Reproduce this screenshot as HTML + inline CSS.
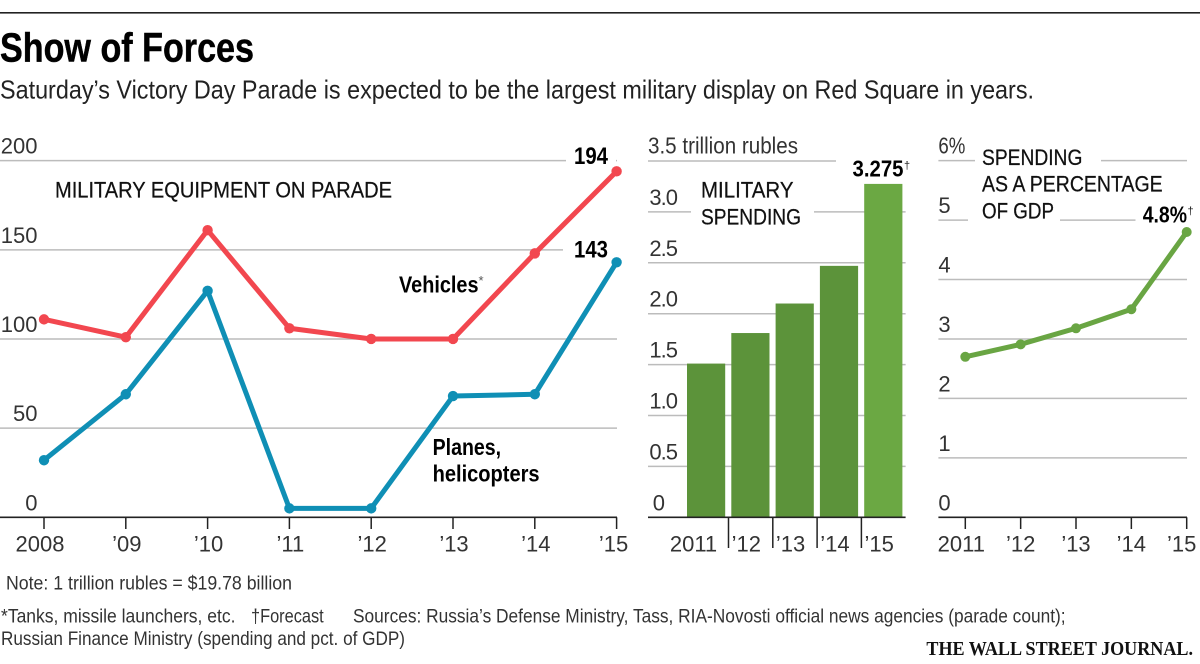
<!DOCTYPE html>
<html lang="en">
<head>
<meta charset="utf-8">
<title>Show of Forces</title>
<style>
html,body{margin:0;padding:0;background:#fff;width:1200px;height:664px;overflow:hidden}
svg{display:block}
text{font-family:"Liberation Sans",sans-serif;fill:#222}
.b{font-weight:700;fill:#000}
.t{fill:#333}
.c{fill:#111;stroke:#111;stroke-width:.25}
</style>
</head>
<body>
<svg id="chart" width="1200" height="664" viewBox="0 0 1200 664" xmlns="http://www.w3.org/2000/svg">
<rect x="0" y="12" width="1200" height="1.6" fill="#222"/>
<text class="b" x="0" y="61.5" font-size="41" textLength="254" lengthAdjust="spacingAndGlyphs" stroke="#000" stroke-width=".5">Show of Forces</text>
<text x="0" y="98.5" font-size="26" textLength="1034" lengthAdjust="spacingAndGlyphs">Saturday’s Victory Day Parade is expected to be the largest military display on Red Square in years.</text>

<g id="grid"></g>
<rect x="566" y="150" width="50" height="20" fill="#fff"/>
<rect x="563" y="240" width="54" height="20" fill="#fff"/>
<rect x="836" y="150" width="70" height="20" fill="#fff"/>
<rect x="691" y="205" width="123" height="14" fill="#fff"/>
<rect x="975" y="150" width="126" height="20" fill="#fff"/>
<rect x="968" y="212" width="92" height="16" fill="#fff"/>
<rect x="1135.5" y="212" width="52" height="16" fill="#fff"/>

<g id="marks"></g>
<g id="axes"></g>

<text class="c" x="55" y="197.3" font-size="22" textLength="337" lengthAdjust="spacingAndGlyphs">MILITARY EQUIPMENT ON PARADE</text>
<text class="b" x="574" y="164" font-size="24" textLength="34" lengthAdjust="spacingAndGlyphs">194</text>
<text class="b" x="574" y="257.5" font-size="24" textLength="34" lengthAdjust="spacingAndGlyphs">143</text>
<text class="b" x="399" y="292.3" font-size="23" textLength="79.5" lengthAdjust="spacingAndGlyphs">Vehicles</text>
<text x="478.5" y="285" font-size="13" style="fill:#555">*</text>
<text class="b" x="432.6" y="455" font-size="23" textLength="68.5" lengthAdjust="spacingAndGlyphs">Planes,</text>
<text class="b" x="432.6" y="481.7" font-size="23" textLength="107" lengthAdjust="spacingAndGlyphs">helicopters</text>

<text class="t" x="648" y="153.3" font-size="23" textLength="150" lengthAdjust="spacingAndGlyphs">3.5 trillion rubles</text>
<text class="c" x="701" y="197.7" font-size="22" textLength="92.5" lengthAdjust="spacingAndGlyphs">MILITARY</text>
<text class="c" x="701" y="224.3" font-size="22" textLength="100" lengthAdjust="spacingAndGlyphs">SPENDING</text>
<text class="b" x="852.5" y="176.7" font-size="23" textLength="51" lengthAdjust="spacingAndGlyphs">3.275</text>
<text x="904" y="169" font-size="11">†</text>

<text class="t" x="938.4" y="153.3" font-size="23" textLength="27" lengthAdjust="spacingAndGlyphs">6%</text>
<text class="c" x="982" y="165" font-size="22" textLength="100.4" lengthAdjust="spacingAndGlyphs">SPENDING</text>
<text class="c" x="982" y="191.7" font-size="22" textLength="180.7" lengthAdjust="spacingAndGlyphs">AS A PERCENTAGE</text>
<text class="c" x="982" y="218.3" font-size="22" textLength="72" lengthAdjust="spacingAndGlyphs">OF GDP</text>
<text class="b" x="1142.7" y="222.7" font-size="23" textLength="44.3" lengthAdjust="spacingAndGlyphs">4.8%</text>
<text x="1187.5" y="214.5" font-size="11">†</text>

<text class="t" x="6" y="589.3" font-size="19.5" textLength="286" lengthAdjust="spacingAndGlyphs">Note: 1 trillion rubles = $19.78 billion</text>
<text class="t" x="1" y="622.7" font-size="19.5" textLength="234.5" lengthAdjust="spacingAndGlyphs">*Tanks, missile launchers, etc.</text>
<text class="t" x="251" y="622.7" font-size="19.5" textLength="72.7" lengthAdjust="spacingAndGlyphs">†Forecast</text>
<text class="t" x="353" y="622.7" font-size="19.5" textLength="712.6" lengthAdjust="spacingAndGlyphs">Sources: Russia’s Defense Ministry, Tass, RIA-Novosti official news agencies (parade count);</text>
<text class="t" x="1" y="645" font-size="19.5" textLength="404" lengthAdjust="spacingAndGlyphs">Russian Finance Ministry (spending and pct. of GDP)</text>
<text x="926.4" y="655" font-size="20" textLength="266.6" lengthAdjust="spacingAndGlyphs" style="font-family:'Liberation Serif',serif;font-weight:700;fill:#111">THE WALL STREET JOURNAL.</text>
</svg>

<script>
const paradeYears = ['2008','’09','’10','’11','’12','’13','’14','’15'];
const vehicles = [111, 101, 161, 106, 100, 100, 148, 194];
const planes = [32, 69, 127, 5, 5, 68, 69, 143];
const paradeTicks = [0, 50, 100, 150, 200];

const spendingYears = ['2011','’12','’13','’14','’15'];
const spending = [1.51, 1.81, 2.10, 2.47, 3.275];
const spendingTicks = ['0','0.5','1.0','1.5','2.0','2.5','3.0','3.5'];

const gdpYears = ['2011','’12','’13','’14','’15'];
const gdpShare = [2.7, 2.91, 3.18, 3.5, 4.8];
const gdpTicks = ['0','1','2','3','4','5','6'];

const NS = 'http://www.w3.org/2000/svg';
const BASE = 517.3;
const gridG = document.getElementById('grid');
const marksG = document.getElementById('marks');
const axesG = document.getElementById('axes');

const xParade = i => 44 + 81.8 * i;
const yParade = v => BASE - v * 1.7832;
const xBand = i => 687 + 44.3 * i;
const yRubles = v => BASE - v * 101.8;
const xGdp = i => 965.3 + 55.35 * i;
const yGdp = v => BASE - v * 59.44;

function make(tag, attrs, parent) {
  const el = document.createElementNS(NS, tag);
  for (const k in attrs) el.setAttribute(k, attrs[k]);
  parent.appendChild(el);
  return el;
}
function gridLine(x1, x2, y, parent) {
  return make('line', {x1: x1, x2: x2, y1: y, y2: y, stroke: '#bcbcbc', 'stroke-width': 1.5}, parent);
}
function tickLine(x, y2, parent) {
  return make('line', {x1: x, x2: x, y1: BASE, y2: y2, stroke: '#222', 'stroke-width': 1.5}, parent);
}
function label(str, x, y, anchor, parent) {
  const t = make('text', {x: x, y: y, 'text-anchor': anchor, 'font-size': 22, class: 't'}, parent);
  t.textContent = str;
  return t;
}
function series(values, xf, yf, color, width, r, name) {
  const pts = values.map((v, i) => xf(i) + ',' + yf(v)).join(' ');
  const line = make('polyline', {points: pts, fill: 'none', stroke: color, 'stroke-width': width, 'stroke-linejoin': 'round'}, marksG);
  
  
  values.forEach((v, i) => {
    const c = make('circle', {cx: xf(i), cy: yf(v), r: r, fill: color}, marksG);
    
    
  });
}

/* Panel 1: parade counts */
paradeTicks.forEach(v => {
  if (v > 0) {
    const g = gridLine(0, 617, yParade(v), gridG);
    
    
  }
  const l = label(String(v), 37.5, yParade(v) - 7, 'end', axesG);
  
  
});
series(vehicles, xParade, yParade, '#f2474f', 5, 5.2, 'vehicles');
series(planes, xParade, yParade, '#0f8fb5', 5, 5.2, 'planes');
const axis1 = make('line', {x1: 0, x2: 617, y1: BASE, y2: BASE, stroke: '#222', 'stroke-width': 1.6}, axesG);


paradeYears.forEach((s, i) => {
  const tk = tickLine(xParade(i), 529, axesG);
  
  
  const shift = i === 0 ? -4 : i === paradeYears.length - 1 ? -3 : 1;
  const l = label(s, xParade(i) + shift, 551.7, 'middle', axesG);
  
  
});

/* Panel 2: rubles */
spendingTicks.forEach((s, i) => {
  const v = parseFloat(s);
  if (v > 0) {
    const g = gridLine(648, 905.6, yRubles(v), gridG);
    
    
  }
  if (v < 3.5) {
    const l = label(s, v === 0 ? 665 : 677, yRubles(v) - 7, 'end', axesG);
    l.setAttribute('letter-spacing', v === 0 ? '0' : '-1');
    
    
  }
});
spending.forEach((v, i) => {
  const last = i === spending.length - 1;
  const bar = make('rect', {x: xBand(i), y: yRubles(v), width: 38.2, height: BASE - yRubles(v), fill: last ? '#6ba843' : '#5c933a'}, marksG);
  
  
});
const axis2 = make('line', {x1: 648, x2: 905.6, y1: BASE, y2: BASE, stroke: '#222', 'stroke-width': 1.6}, axesG);


spendingYears.forEach((s, i) => {
  if (i > 0) {
    const tk = tickLine(xBand(i) - 2.8, 548, axesG);
    
    
  }
  const l = label(s, xBand(i) + 19 + (i === 0 ? -12.5 : -4), 551.7, 'middle', axesG);
  
  
});

/* Panel 3: share of GDP */
gdpTicks.forEach(s => {
  const v = parseFloat(s);
  if (v > 0) {
    const g = gridLine(938.4, 1187, yGdp(v), gridG);
    
    
  }
  if (v < 6) {
    const l = label(s, 938.4, yGdp(v) - 7, 'start', axesG);
    
    
  }
});
series(gdpShare, xGdp, yGdp, '#69a543', 5, 5, 'gdp-share');
const axis3 = make('line', {x1: 938.4, x2: 1187, y1: BASE, y2: BASE, stroke: '#222', 'stroke-width': 1.6}, axesG);


gdpYears.forEach((s, i) => {
  const tk = tickLine(xGdp(i), 529, axesG);
  
  
  const shift = i === 0 ? -4 : i === gdpYears.length - 1 ? -5 : 0;
  const l = label(s, xGdp(i) + shift, 551.7, 'middle', axesG);
  
  
});
</script>
</body>
</html>
